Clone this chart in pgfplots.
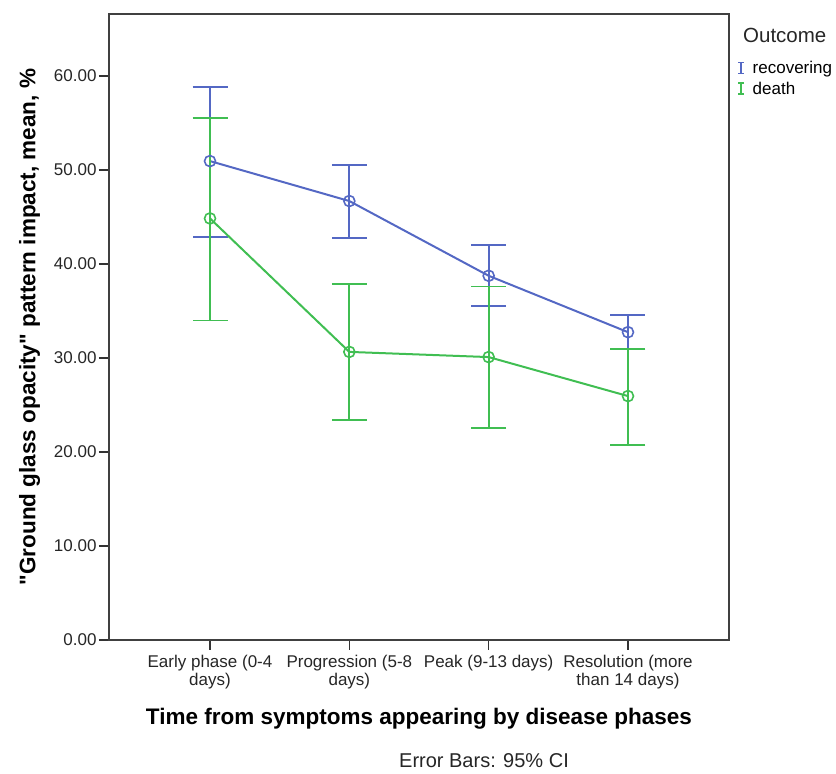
\documentclass[border=0pt]{standalone}
\usepackage{pgfplots}
\pgfplotsset{compat=1.18}
\usepackage{pgfplotstable}
\usepackage{fontspec}
\setmainfont{Liberation Sans}[Ligatures=TeXOff]
\definecolor{cblue}{RGB}{84,104,196}
\definecolor{cgreen}{RGB}{64,190,82}
\pgfplotstableread{
x y ep em
0 50.95 7.85 8.05
1 46.70 3.80 3.90
2 38.75 3.25 3.25
3 32.75 1.85 1.80
}\recov
\pgfplotstableread{
x y ep em
0 44.85 10.65 10.85
1 30.65 7.25 7.25
2 30.10 7.50 7.55
3 25.95 5.05 5.20
}\death
\begin{document}
\begin{tikzpicture}
\begin{axis}[
  scale only axis,
  width=620pt, height=626pt,
  xmin=-0.725, xmax=3.725,
  ymin=0, ymax=66.6,
  axis line style={black!75, line width=1.6pt},
  xtick={0,1,2,3},
  xticklabels={{Early phase (0-4\\days)},{Progression (5-8\\days)},{Peak (9-13 days)},{Resolution (more\\than 14 days)}},
  xticklabel style={align=center, font=\fontsize{17}{18}\selectfont, text=black!85, yshift=-2pt},
  ytick={0,10,20,30,40,50,60},
  yticklabel style={font=\fontsize{17}{18}\selectfont, text=black!85, xshift=1pt},
  /pgf/number format/assume math mode=true,
  yticklabel={\pgfmathprintnumber[fixed,fixed zerofill,precision=2]{\tick}},
  tick align=outside,
  major tick length=10pt,
  tick style={black!80, line width=1.4pt},
  xtick pos=bottom, ytick pos=left,
  xlabel={\textbf{Time from symptoms appearing by disease phases}},
  ylabel={\textbf{"Ground glass opacity" pattern impact, mean, \%}},
  xlabel style={font=\fontsize{22.5}{24}\selectfont, yshift=-12pt},
  ylabel style={font=\fontsize{22.5}{24}\selectfont, yshift=7pt},
  clip=false,
  legend style={at={(rel axis cs:1,0.93)}, anchor=north west, xshift=7pt, draw=none, fill=none,
    font=\fontsize{17}{19}\selectfont, row sep=3pt, inner sep=1pt},
  legend cell align=left,
  legend image code/.code={
    \draw[line width=1.8pt] (0.15cm,-5.5pt) -- (0.15cm,5.5pt);
    \draw[line width=1.8pt] (0.05cm,-5.5pt) -- (0.25cm,-5.5pt);
    \draw[line width=1.8pt] (0.05cm,5.5pt) -- (0.25cm,5.5pt);
  },
  legend columns=1,
]
\addplot[cblue, line width=2pt, mark=o, mark size=5.5pt,
  mark options={line width=1.6pt},
  error bars/.cd, y dir=both, y explicit,
  error bar style={line width=1.8pt},
  error mark options={rotate=90, mark size=17.5pt, line width=1.8pt}]
  table[x=x, y=y, y error plus=ep, y error minus=em]{\recov};
\addlegendentry{\hspace{6pt}recovering}
\addplot[cgreen, line width=2pt, mark=o, mark size=5.5pt,
  mark options={line width=1.6pt},
  error bars/.cd, y dir=both, y explicit,
  error bar style={line width=1.8pt},
  error mark options={rotate=90, mark size=17.5pt, line width=1.8pt}]
  table[x=x, y=y, y error plus=ep, y error minus=em]{\death};
\addlegendentry{\hspace{6pt}death}
\node[font=\fontsize{20.5}{22}\selectfont, text=black!85, anchor=west, inner sep=0pt]
  at (rel axis cs:1,0.966) [xshift=14pt] {Outcome};
\end{axis}
\node[font=\fontsize{20}{22}\selectfont, text=black!85] at (375pt,-121pt) {Error Bars: 95\% CI};
\pgfresetboundingbox
\path[use as bounding box] (-109pt,-134pt) rectangle (727pt,640pt);
\end{tikzpicture}
\end{document}
